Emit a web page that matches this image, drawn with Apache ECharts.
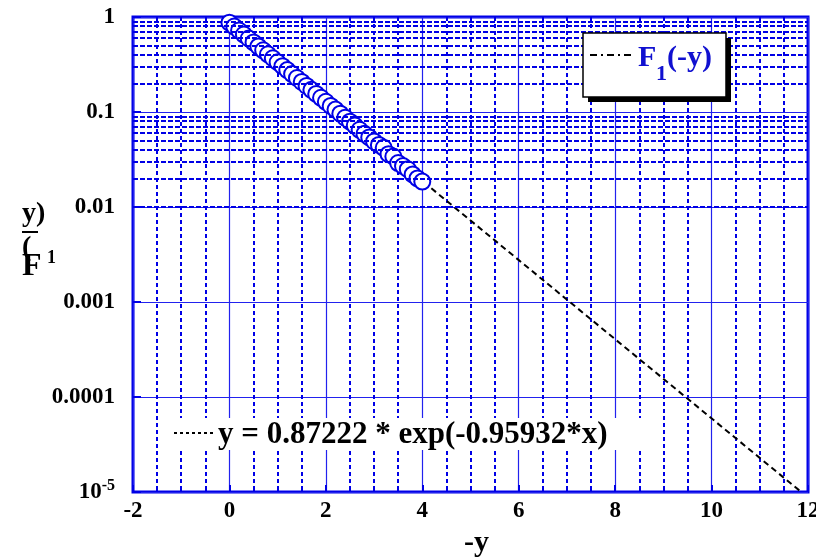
<!DOCTYPE html>
<html>
<head>
<meta charset="utf-8">
<script src="https://cdn.jsdelivr.net/npm/echarts@6/dist/echarts.min.js"></script>
<style>
html,body{margin:0;padding:0;background:#fff;}
#chart{width:816px;height:558px;}
</style>
</head>
<body>
<div id="chart"></div>
<script>
// ---- data ----
const xData = [0,0.1,0.2,0.3,0.4,0.5,0.6,0.7,0.8,0.9,1.0,1.1,1.2,1.3,1.4,1.5,1.6,1.7,1.8,1.9,2.0,2.1,2.2,2.3,2.4,2.5,2.6,2.7,2.8,2.9,3.0,3.1,3.2,3.3,3.4,3.5,3.6,3.7,3.8,3.9,4.0];
const yData = [0.872,0.793,0.720,0.654,0.594,0.540,0.490,0.446,0.405,0.368,0.334,0.304,0.276,0.251,0.228,0.207,0.188,0.171,0.155,0.141,0.128,0.116,0.106,0.096,0.087,0.079,0.072,0.065,0.059,0.054,0.049,0.045,0.042,0.036,0.034,0.029,0.027,0.025,0.022,0.020,0.0185];
const fitX = [-0.14, 11.86];
const fitY = [1, 1e-5];
const xTicks = [-2,0,2,4,6,8,10,12];
const yTickVals = [1e-5,1e-4,1e-3,1e-2,0.1,1];
const yTickLabels = ['10{sup|-5}','0.0001','0.001','0.01','0.1','1'];
const yMinorVals = [];
[1e-5,1e-4,1e-3,1e-2,0.1].forEach(d=>{for(let k=2;k<=9;k++) yMinorVals.push(+(d*k).toPrecision(3));});
const equationText = 'y = 0.87222 * exp(-0.95932*x)';

const BLUE = '#0000e6';
const FONT = 'Liberation Serif';

const chart = echarts.init(document.getElementById('chart'), null, {renderer:'canvas'});
const option = {
  animation:false,
  backgroundColor:'#fff',
  grid:{left:133, top:17, right:8, bottom:66, containLabel:false, outerBoundsMode:'none',
    show:true, borderColor:BLUE, borderWidth:3, backgroundColor:'transparent'},
  xAxis:{
    type:'value', min:-2, max:12, interval:2,
    name:'-y', nameLocation:'middle', nameGap:35,
    nameTextStyle:{fontFamily:FONT, fontWeight:'bold', fontSize:30, color:'#000', padding:[0,0,0,12]},
    axisLine:{show:false, onZero:false},
    axisTick:{show:true, inside:true, length:7, lineStyle:{color:BLUE, width:2}},
    minorTick:{show:true, splitNumber:4, length:5, lineStyle:{color:BLUE, width:2}},
    axisLabel:{fontFamily:FONT, fontWeight:'bold', fontSize:23, color:'#000', margin:8,
      formatter:v=> xTicks.indexOf(v)>=0 ? String(v) : ''},
    splitLine:{show:true, lineStyle:{color:'#2222ee', width:1.2, type:'solid'}},
    minorSplitLine:{show:true, lineStyle:{color:BLUE, width:2, type:[4,3]}}
  },
  yAxis:{
    type:'log', logBase:10, min:1e-5, max:1,
    axisLine:{show:false, onZero:false},
    axisTick:{show:true, inside:true, length:8, lineStyle:{color:BLUE, width:2}},
    axisLabel:{fontFamily:FONT, fontWeight:'bold', fontSize:23, color:'#000', margin:18,
      formatter:v=>{
        for(let i=0;i<yTickVals.length;i++){ if(Math.abs(Math.log10(v)-Math.log10(yTickVals[i]))<1e-6) return yTickLabels[i]; }
        return '';
      },
      rich:{sup:{fontFamily:FONT, fontWeight:'bold', fontSize:16, color:'#000', verticalAlign:'top', padding:[0,0,12,0]}}
    },
    splitLine:{show:true, lineStyle:{color:'#2222ee', width:1.2, type:'solid'}}
  },
  series:[
    {
      name:'minorgrid', type:'line', data:[], z:1, silent:true,
      markLine:{silent:true, symbol:['none','none'], label:{show:false},
        lineStyle:{color:BLUE, width:2, type:[5,2]},
        emphasis:{disabled:true},
        data: yMinorVals.map(v=>({yAxis:v}))}
    },
    {
      name:'fit', type:'line', z:3, showSymbol:false, symbol:'none',
      data: fitX.map((x,i)=>[x, fitY[i]]),
      lineStyle:{color:'#000', width:2, type:[6,4]},
      itemStyle:{color:'#000'}
    },
    {
      name:'data', type:'scatter', z:4, symbol:'circle', symbolSize:16,
      data: xData.map((x,i)=>[x, yData[i]]),
      itemStyle:{color:'#fff', borderColor:BLUE, borderWidth:2, opacity:1}
    }
  ],
  graphic:[
    // equation box
    {type:'rect', z:10, shape:{x:172, y:418, width:490, height:32}, style:{fill:'#fff'}},
    {type:'line', z:11, shape:{x1:174, y1:433, x2:215, y2:433}, style:{stroke:'#000', lineWidth:2, lineDash:[3,3]}},
    {type:'text', z:11, x:218, y:435, style:{text:equationText, font:'bold 31px "Liberation Serif"', fill:'#000', textVerticalAlign:'middle'}},
    // legend box
    {type:'rect', z:10, shape:{x:588, y:38, width:143, height:64}, style:{fill:'#000'}},
    {type:'rect', z:11, shape:{x:583, y:33, width:143, height:64}, style:{fill:'#fff', stroke:'#000', lineWidth:1.5}},
    {type:'line', z:12, shape:{x1:590, y1:55, x2:634, y2:55}, style:{stroke:'#000', lineWidth:2, lineDash:[7,4,2,4]}},
    {type:'text', z:12, x:638, y:58, style:{text:'F', font:'bold 30px "Liberation Serif"', fill:'#1010d0', textVerticalAlign:'middle'}},
    {type:'text', z:12, x:656, y:74, style:{text:'1', font:'bold 22px "Liberation Serif"', fill:'#1010d0', textVerticalAlign:'middle'}},
    {type:'text', z:12, x:667, y:58, style:{text:'(-y)', font:'bold 30px "Liberation Serif"', fill:'#1010d0', textVerticalAlign:'middle'}},
    // y-axis title (scrambled in original)
    {type:'text', z:11, x:22, y:214, style:{text:'y)', font:'bold 28px "Liberation Serif"', fill:'#000', textVerticalAlign:'middle'}},
    {type:'line', z:11, shape:{x1:22, y1:232, x2:38, y2:232}, style:{stroke:'#000', lineWidth:2}},
    {type:'text', z:11, x:22, y:248, style:{text:'(', font:'bold 28px "Liberation Serif"', fill:'#000', textVerticalAlign:'middle'}},
    {type:'text', z:11, x:22, y:267, style:{text:'F', font:'bold 32px "Liberation Serif"', fill:'#000', textVerticalAlign:'middle'}},
    {type:'text', z:11, x:47, y:258, style:{text:'1', font:'bold 18px "Liberation Serif"', fill:'#000', textVerticalAlign:'middle'}}
  ]
};
chart.setOption(option);
</script>
</body>
</html>
